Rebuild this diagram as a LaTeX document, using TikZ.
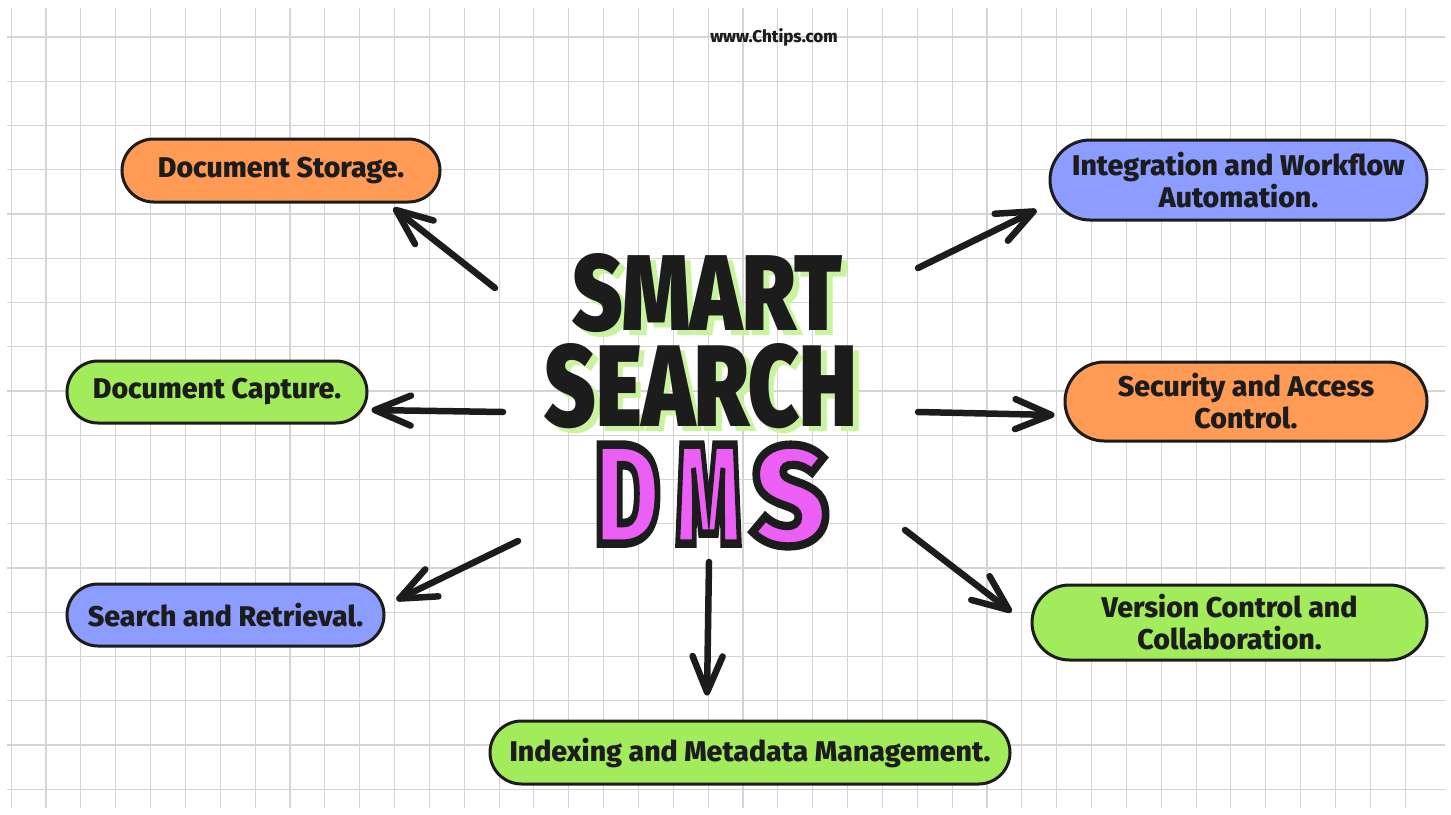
\documentclass[tikz,border=0pt]{standalone}
\usepackage{fontspec}
\setmainfont{Fira Sans}
\newfontfamily\blackfont{Fira Sans Black}
\newfontfamily\strokefont{Fira Sans Black}[FakeBold=6]
\newfontfamily\labelfont{Fira Sans ExtraBold}
\usetikzlibrary{shapes.misc,arrows.meta}
\definecolor{cOrange}{HTML}{FF9B55}
\definecolor{cBlue}{HTML}{8C9CFF}
\definecolor{cGreen}{HTML}{A2EC5C}
\definecolor{cPink}{HTML}{EC5FF5}
\definecolor{cShadow}{HTML}{C8F4A0}
\definecolor{cGrid}{HTML}{D4D4D4}
\definecolor{cInk}{HTML}{1C1C1C}
\tikzset{
  pill/.style={rounded rectangle, draw=cInk, line width=3pt, inner sep=0pt, font=\labelfont\fontsize{28.5}{32}\selectfont, text=cInk, align=center},
  arr/.style={draw=cInk, line width=6.5pt, line cap=round, -{Straight Barb[length=36pt,width=30pt,round]}},
  gridline/.style={draw=cGrid, line width=1.1pt},
  plain/.style={inner sep=0pt, outer sep=0pt},
}
\newcommand{\strokeletter}[3]{\resizebox{#1}{#2}{\special{pdf:code 0.11 0.11 0.11 RG}\strokefont #3}}
\begin{document}
\begin{tikzpicture}[x=1pt,y=-1pt]
\useasboundingbox (0,0) rectangle (1451,814);
\fill[white] (0,0) rectangle (1451,814);
\foreach \k in {-1,...,39}{
  \pgfmathsetmacro\xx{46+34.85*\k}
  \draw[gridline] (\xx,8) -- (\xx,808);
}
\foreach \k in {0,...,17}{
  \pgfmathsetmacro\yy{37+44.25*\k}
  \draw[gridline] (7,\yy) -- (1445,\yy);
}

\node[plain, font=\labelfont\fontsize{17}{20}\selectfont, text=cInk] (url) at (774,37) {www.Chtips.com};

% title
\node[plain, text=cShadow] (smartsh) at (713,298.5) {\resizebox{269pt}{77pt}{\blackfont SMART}};
\node[plain, text=cInk] (smart) at (707.5,293.5) {\resizebox{269pt}{77pt}{\blackfont SMART}};
\node[plain, text=cShadow] (searchsh) at (706.5,391.5) {\resizebox{312pt}{83pt}{\blackfont SEARCH}};
\node[plain, text=cInk] (search) at (701,386.5) {\resizebox{312pt}{83pt}{\blackfont SEARCH}};
\node[plain, text=cPink] (dms) at (711.5,495.5) {\strokeletter{64pt}{99pt}{D}\hspace{17pt}\strokeletter{64pt}{99pt}{M}\hspace{12pt}\strokeletter{75pt}{99pt}{S}};

% boxes
\node[pill, fill=cOrange, minimum width=318pt, minimum height=63pt] (storage) at (281,170.5) {Document Storage.};
\node[pill, fill=cBlue, minimum width=377pt, minimum height=80pt] (integ) at (1238.5,180) {Integration and Workflow\\Automation.};
\node[pill, fill=cGreen, minimum width=300pt, minimum height=62pt] (capture) at (217,392) {Document Capture.};
\node[pill, fill=cOrange, minimum width=362pt, minimum height=79pt] (security) at (1246,401.5) {Security and Access\\Control.};
\node[pill, fill=cBlue, minimum width=317pt, minimum height=62pt] (retrieval) at (225.5,615) {Search and Retrieval.};
\node[pill, fill=cGreen, minimum width=395pt, minimum height=75pt] (version) at (1229.5,622.5) {Version Control and\\Collaboration.};
\node[pill, fill=cGreen, minimum width=520pt, minimum height=63pt] (indexing) at (750,752.5) {Indexing and Metadata Management.};

% arrows
\coordinate (a1) at (495,288);
\coordinate (a2) at (918,268);
\coordinate (a3) at (503,412);
\coordinate (a4) at (918,412);
\coordinate (a5) at (518,541);
\coordinate (a6) at (709,562);
\coordinate (a7) at (905,530);
\draw[arr] (a1) -- ([shift={(-48,37.5)}]storage.east);
\draw[arr] (a2) -- ([shift={(-12,30)}]integ.west);
\draw[arr] (a3) -- ([shift={(3,18)}]capture.east);
\draw[arr] (a4) -- ([shift={(-9,13.5)}]security.west);
\draw[arr] (a5) -- ([shift={(11,-15)}]retrieval.east);
\draw[arr] (a6) -- ([shift={(-43,-24)}]indexing.north);
\draw[arr] (a7) -- ([shift={(-19,-10.5)}]version.west);
\end{tikzpicture}
\end{document}
